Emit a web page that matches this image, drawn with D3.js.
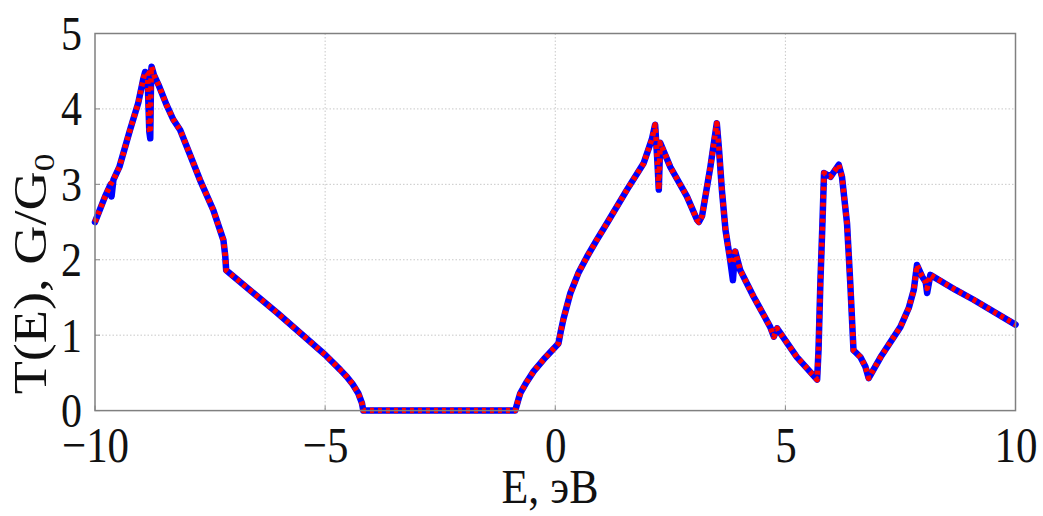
<!DOCTYPE html>
<html>
<head>
<meta charset="utf-8">
<script src="https://cdn.jsdelivr.net/npm/d3@7"></script>
<style>
  html, body { margin: 0; padding: 0; background: #fff; }
  svg { display: block; }
  text { font-family: "Liberation Serif", "DejaVu Serif", serif; fill: #111; }
</style>
</head>
<body>
<svg id="chart" width="1043" height="516"></svg>
<script>
// Energy grid (eV)
const energy = [
  -10.00, -9.78, -9.66, -9.64, -9.60, -9.47, -9.24, -9.06, -8.95, -8.91, -8.86,
  -8.82, -8.80, -8.78, -8.77, -8.72, -8.62, -8.45, -8.30, -8.15, -7.94, -7.72,
  -7.43, -7.21, -7.17, -7.15, -6.05, -5.00, -4.67, -4.53, -4.40, -4.28, -4.20,
  -4.17, -0.87, -0.80, -0.76, -0.62, -0.47, -0.25, 0.07, 0.12, 0.18, 0.33,
  0.50, 0.69, 0.90, 1.12, 1.56, 1.92, 2.10, 2.17, 2.22, 2.25, 2.28, 2.50,
  2.86, 3.08, 3.12, 3.19, 3.37, 3.51, 3.56, 3.62, 3.70, 3.80, 3.86, 3.91,
  4.02, 4.31, 4.67, 4.75, 4.82, 5.25, 5.69, 5.72, 5.76, 5.80, 5.84, 5.98,
  6.16, 6.23, 6.34, 6.41, 6.48, 6.63, 6.74, 6.81, 7.07, 7.50, 7.68, 7.79,
  7.86, 7.97, 8.05, 8.08, 8.15, 8.70, 9.09, 10.00
];

// Transmission, first calculation (solid blue)
const transBlue = [
  2.50, 2.84, 3.00, 2.84, 3.06, 3.23, 3.72, 4.08, 4.40, 4.49, 4.47,
  3.70, 3.61, 4.50, 4.56, 4.45, 4.32, 4.06, 3.86, 3.72, 3.40, 3.06,
  2.66, 2.26, 2.05, 1.86, 1.30, 0.74, 0.54, 0.45, 0.35, 0.23, 0.10,
  0.00, 0.00, 0.15, 0.23, 0.38, 0.52, 0.68, 0.89, 1.05, 1.22, 1.56,
  1.82, 2.04, 2.26, 2.48, 2.93, 3.28, 3.60, 3.79, 3.30, 2.93, 3.55, 3.23,
  2.84, 2.53, 2.50, 2.58, 3.23, 3.81, 3.45, 2.93, 2.39, 2.00, 1.73, 2.11,
  1.86, 1.51, 1.11, 0.98, 1.09, 0.71, 0.41, 0.80, 1.69, 2.39, 3.15, 3.10,
  3.26, 3.10, 2.48, 1.69, 0.80, 0.71, 0.58, 0.43, 0.71, 1.11, 1.36, 1.60,
  1.93, 1.78, 1.70, 1.56, 1.80, 1.60, 1.47, 1.14
];

// Transmission, second calculation (dashed red)
const transRed = [
  2.50, 2.84, 3.00, 3.02, 3.06, 3.23, 3.72, 4.08, 4.40, 4.49, 4.47,
  3.72, 3.68, 4.50, 4.56, 4.45, 4.32, 4.06, 3.86, 3.72, 3.40, 3.06,
  2.66, 2.26, 2.05, 1.86, 1.30, 0.74, 0.54, 0.45, 0.35, 0.23, 0.10,
  0.00, 0.00, 0.15, 0.23, 0.38, 0.52, 0.68, 0.89, 1.05, 1.22, 1.56,
  1.82, 2.04, 2.26, 2.48, 2.93, 3.28, 3.60, 3.79, 3.30, 2.93, 3.55, 3.23,
  2.84, 2.53, 2.50, 2.58, 3.23, 3.81, 3.45, 2.93, 2.39, 2.00, 1.95, 2.11,
  1.86, 1.51, 1.11, 0.98, 1.09, 0.71, 0.41, 0.80, 1.69, 2.39, 3.15, 3.10,
  3.26, 3.10, 2.48, 1.69, 0.80, 0.71, 0.58, 0.43, 0.71, 1.11, 1.36, 1.60,
  1.93, 1.78, 1.70, 1.62, 1.80, 1.60, 1.47, 1.14
];

const xTicks = [-10, -5, 0, 5, 10];
const yTicks = [0, 1, 2, 3, 4, 5];

const svg = d3.select("#chart");
const plotLeft = 95, plotRight = 1015.5, plotTop = 33.5, plotBottom = 410.6;

const x = d3.scaleLinear().domain([-10, 10]).range([plotLeft, plotRight]);
const y = d3.scaleLinear().domain([0, 5]).range([plotBottom, plotTop]);

const fmt = d => d < 0 ? "\u2212" + Math.abs(d) : String(d);

// grid
const grid = svg.append("g").attr("stroke", "#c8c8c8").attr("stroke-width", 1)
  .attr("stroke-dasharray", "1.5,2");
grid.selectAll("line.v").data(xTicks.slice(1, -1)).join("line")
  .attr("x1", d => x(d)).attr("x2", d => x(d)).attr("y1", plotTop).attr("y2", plotBottom);
grid.selectAll("line.h").data(yTicks.slice(1, -1)).join("line")
  .attr("x1", plotLeft).attr("x2", plotRight).attr("y1", d => y(d)).attr("y2", d => y(d));

// inward tick marks on the frame
const ticks = svg.append("g").attr("stroke", "#888").attr("stroke-width", 1);
ticks.selectAll("line.xt").data(xTicks).join("line")
  .attr("x1", d => x(d)).attr("x2", d => x(d)).attr("y1", plotBottom).attr("y2", plotBottom - 5);
ticks.selectAll("line.yt").data(yTicks).join("line")
  .attr("x1", plotLeft).attr("x2", plotLeft + 5).attr("y1", d => y(d)).attr("y2", d => y(d));

// curves
const pts = (vals) => energy.map((e, i) => [e, vals[i]]);
const line = d3.line().x(d => x(d[0])).y(d => y(d[1]));

svg.append("path").datum(pts(transBlue))
  .attr("d", line).attr("fill", "none").attr("stroke", "#0000ff")
  .attr("stroke-width", 6.5).attr("stroke-linejoin", "round").attr("stroke-linecap", "round");

svg.append("path").datum(pts(transRed))
  .attr("d", line).attr("fill", "none").attr("stroke", "#ff0000")
  .attr("stroke-width", 5.5).attr("stroke-linejoin", "round")
  .attr("stroke-dasharray", "4,4");

// frame
svg.append("rect").attr("x", plotLeft).attr("y", plotTop)
  .attr("width", plotRight - plotLeft).attr("height", plotBottom - plotTop)
  .attr("fill", "none").attr("stroke", "#808080").attr("stroke-width", 1.5);

// axes (labels only; frame drawn above)
const xAxis = svg.append("g").attr("transform", `translate(0,${plotBottom})`)
  .call(d3.axisBottom(x).tickValues(xTicks).tickFormat(fmt).tickSize(0));
xAxis.select(".domain").remove();
xAxis.selectAll("text")
  .attr("y", null).attr("dy", null)
  .attr("transform", "translate(0,51) scale(1,1.18)")
  .style("font-size", "43px").style("font-family", "'Liberation Serif', serif")
  .attr("fill", "#111");

const yAxis = svg.append("g").attr("transform", `translate(${plotLeft},0)`)
  .call(d3.axisLeft(y).tickValues(yTicks).tickFormat(fmt).tickSize(0));
yAxis.select(".domain").remove();
yAxis.selectAll("text")
  .attr("x", null).attr("dy", null)
  .attr("transform", "translate(-13,16) scale(1,1.18)")
  .style("font-size", "42px").style("font-family", "'Liberation Serif', serif")
  .attr("fill", "#111");

// axis titles
svg.append("text")
  .attr("text-anchor", "middle")
  .attr("transform", "translate(550,503) scale(1,1.12)")
  .style("font-size", "44px")
  .text("E, эВ");

const yl = svg.append("text")
  .attr("text-anchor", "middle")
  .attr("transform", "translate(46,274) rotate(-90) scale(1.18,1)")
  .style("font-size", "46px");
yl.append("tspan").text("T(E), G/G");
yl.append("tspan").attr("dy", 8).style("font-size", "30px").text("0");
</script>
</body>
</html>
